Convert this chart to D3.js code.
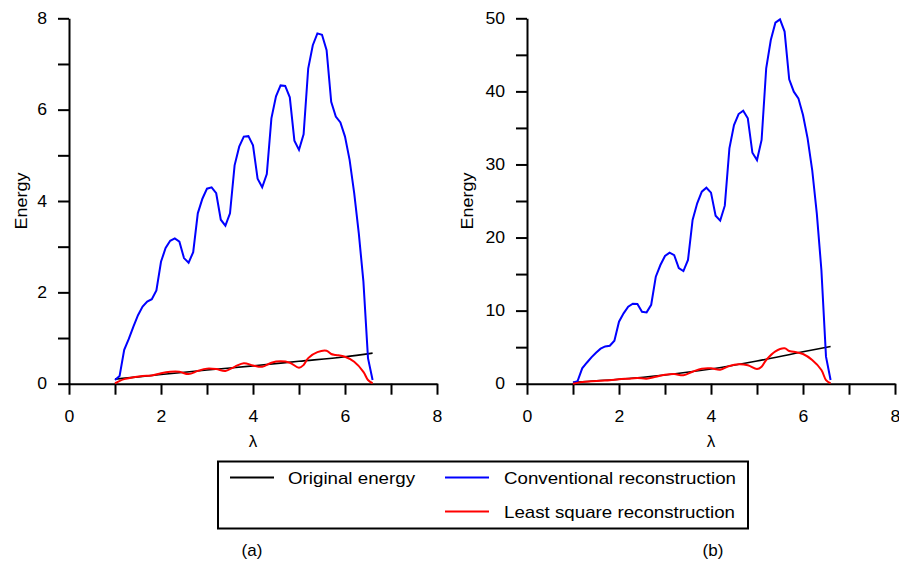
<!DOCTYPE html>
<html>
<head>
<meta charset="utf-8">
<script src="https://cdn.jsdelivr.net/npm/d3@7"></script>
<style>
  body { margin: 0; background: #fff; }
  svg text { font-family: "Liberation Sans", Arial, sans-serif; fill: #000; }
  .axis path, .axis line { stroke: #000; stroke-width: 2; }
  .axis text { font-size: 16px; }
</style>
</head>
<body>
<svg id="chart" width="899" height="566"></svg>
<script>
// lambda grid of the two reconstructions
const lambda = [1.0,1.1,1.2,1.3,1.4,1.5,1.6,1.7,1.8,1.9,
  2.0,2.1,2.2,2.3,2.4,2.5,2.6,2.7,2.8,2.9,
  3.0,3.1,3.2,3.3,3.4,3.5,3.6,3.7,3.8,3.9,
  4.0,4.1,4.2,4.3,4.4,4.5,4.6,4.7,4.8,4.9,
  5.0,5.1,5.2,5.3,5.4,5.5,5.6,5.7,5.8,5.9,
  6.0,6.1,6.2,6.3,6.4,6.5,6.6];

// conventional reconstruction (blue)
const convA = [0.08,0.17,0.74,0.98,1.25,1.5,1.69,1.8,1.85,2.04,
  2.67,2.97,3.13,3.18,3.11,2.75,2.65,2.88,3.73,4.05,
  4.27,4.30,4.17,3.59,3.46,3.73,4.78,5.19,5.41,5.42,
  5.22,4.49,4.30,4.59,5.81,6.29,6.53,6.52,6.27,5.32,
  5.12,5.46,6.9,7.41,7.67,7.64,7.3,6.17,5.85,5.72,
  5.41,4.9,4.17,3.29,2.24,0.56,0.08];
const convB = [0.14,0.36,2.1,2.87,3.6,4.24,4.79,5.1,5.2,5.88,
  8.49,9.63,10.54,10.95,10.9,9.85,9.76,10.8,14.64,16.24,
  17.47,17.93,17.6,15.83,15.42,16.93,22.4,24.68,26.28,26.82,
  26.14,22.99,22.31,24.36,32.21,35.4,36.9,37.36,36.31,31.6,
  30.6,33.35,43.16,47.03,49.4,49.86,48.18,41.65,39.96,39.05,
  36.77,33.58,29.24,23.31,15.56,3.7,0.5];

// least square reconstruction (red)
const lsqX = [1.0,1.2,1.4,1.6,1.8,2.0,2.2,2.4,2.6,2.8,3.0,3.2,3.4,3.6,3.8,4.0,
  4.2,4.4,4.6,4.8,5.0,5.1,5.2,5.4,5.6,5.7,5.8,6.0,6.2,6.4,6.5,6.6];
const lsqA = [0.01,0.10,0.14,0.17,0.18,0.23,0.26,0.26,0.21,0.28,0.33,0.32,0.28,0.37,0.45,0.40,
  0.37,0.46,0.49,0.46,0.35,0.41,0.56,0.69,0.72,0.65,0.63,0.59,0.48,0.26,0.08,0.01];
const lsqB = [0.0,0.23,0.33,0.41,0.46,0.6,0.69,0.78,0.69,0.96,1.23,1.33,1.15,1.64,2.05,2.1,
  1.92,2.42,2.65,2.52,2.01,2.33,3.24,4.43,4.84,4.47,4.38,4.06,3.24,1.87,0.5,0.05];

// original energy (black)
const origX = [1,2,3,4,5,6,6.6];
const origA = [0.1,0.2,0.3,0.39,0.49,0.59,0.67];
const origB = [0.19,0.6,1.19,2.01,3.1,4.38,5.1];

const xTicks = [0,1,2,3,4,5,6,7,8];
const yTicksA = [0,1,2,3,4,5,6,7,8];
const yTicksB = [0,5,10,15,20,25,30,35,40,45,50];

const legendItems = [
  {name: "Original energy", color: "#000", len: 127},
  {name: "Conventional reconstruction", color: "#0000ff", len: 232},
  {name: "Least square reconstruction", color: "#ff0000", len: 231}
];

var svg = d3.select("#chart");

var panels = [
  {x0: 69, yMax: 8, yTicks: yTicksA, labelEvery: 2, conv: convA, lsq: lsqA, orig: origA, tag: "(a)", tagX: 252, ylabX: 27},
  {x0: 527, yMax: 50, yTicks: yTicksB, labelEvery: 10, conv: convB, lsq: lsqB, orig: origB, tag: "(b)", tagX: 713, ylabX: 473}
];

// stretch tick labels a bit, the picture's digits are wider than the font's
var widen = function(sel) {
  sel.selectAll(".tick text")
    .filter(function() { return this.textContent !== ""; })
    .attr("textLength", function() { return this.textContent.length * 9.8; })
    .attr("lengthAdjust", "spacingAndGlyphs");
};

panels.forEach(function(p) {
  var x = d3.scaleLinear().domain([0, 8]).range([p.x0, p.x0 + 368]);
  var y = d3.scaleLinear().domain([0, p.yMax]).range([383.7, 18.3]);

  var g = svg.append("g");

  g.append("g")
    .attr("class", "axis")
    .attr("transform", "translate(0,383.7)")
    .call(d3.axisBottom(x).tickValues(xTicks).tickSize(11).tickSizeOuter(0).tickPadding(16)
      .tickFormat(function(d) { return d % 2 === 0 ? d : ""; }))
    .call(widen);

  g.append("g")
    .attr("class", "axis")
    .attr("transform", "translate(" + p.x0 + ",0)")
    .call(d3.axisLeft(y).tickValues(p.yTicks).tickSize(11).tickSizeOuter(0).tickPadding(11)
      .tickFormat(function(d) { return d % p.labelEvery === 0 ? d : ""; }))
    .call(widen);

  g.append("text")
    .attr("transform", "translate(" + p.ylabX + ",201) rotate(-90)")
    .attr("text-anchor", "middle")
    .attr("textLength", 57)
    .attr("lengthAdjust", "spacingAndGlyphs")
    .style("font-size", "17px")
    .text("Energy");

  g.append("text")
    .attr("x", x(4))
    .attr("y", 447)
    .attr("text-anchor", "middle")
    .style("font-size", "17px")
    .text("λ");

  var line = d3.line()
    .x(function(d) { return x(d[0]); })
    .y(function(d) { return y(d[1]); });

  g.append("path")
    .datum(origX.map(function(v, i) { return [v, p.orig[i]]; }))
    .attr("d", line.curve(d3.curveMonotoneX))
    .attr("fill", "none")
    .attr("stroke", "#000")
    .attr("stroke-width", 1.6);

  g.append("path")
    .datum(lambda.map(function(v, i) { return [v, p.conv[i]]; }))
    .attr("d", line.curve(d3.curveLinear))
    .attr("fill", "none")
    .attr("stroke", "#0000ff")
    .attr("stroke-width", 2);

  g.append("path")
    .datum(lsqX.map(function(v, i) { return [v, p.lsq[i]]; }))
    .attr("d", line.curve(d3.curveCatmullRom))
    .attr("fill", "none")
    .attr("stroke", "#ff0000")
    .attr("stroke-width", 2);

  svg.append("text")
    .attr("x", p.tagX)
    .attr("y", 556)
    .attr("text-anchor", "middle")
    .style("font-size", "17px")
    .text(p.tag);
});

// legend
var legend = svg.append("g");

legend.append("rect")
  .attr("x", 218)
  .attr("y", 461.5)
  .attr("width", 530)
  .attr("height", 67)
  .attr("fill", "none")
  .attr("stroke", "#000")
  .attr("stroke-width", 2);

var legendPos = [[230, 477.5], [445, 477.5], [445, 511.5]];

var item = legend.selectAll("g.legenditem")
  .data(legendItems)
  .enter()
  .append("g")
  .attr("class", "legenditem")
  .attr("transform", function(d, i) { return "translate(" + legendPos[i][0] + "," + legendPos[i][1] + ")"; });

item.append("line")
  .attr("x1", 0).attr("x2", 44)
  .attr("stroke", function(d) { return d.color; })
  .attr("stroke-width", 1.8);

item.append("text")
  .attr("x", function(d, i) { return i === 0 ? 58 : 59; })
  .attr("y", 6)
  .attr("textLength", function(d) { return d.len; })
  .attr("lengthAdjust", "spacingAndGlyphs")
  .style("font-size", "17px")
  .text(function(d) { return d.name; });
</script>
</body>
</html>
